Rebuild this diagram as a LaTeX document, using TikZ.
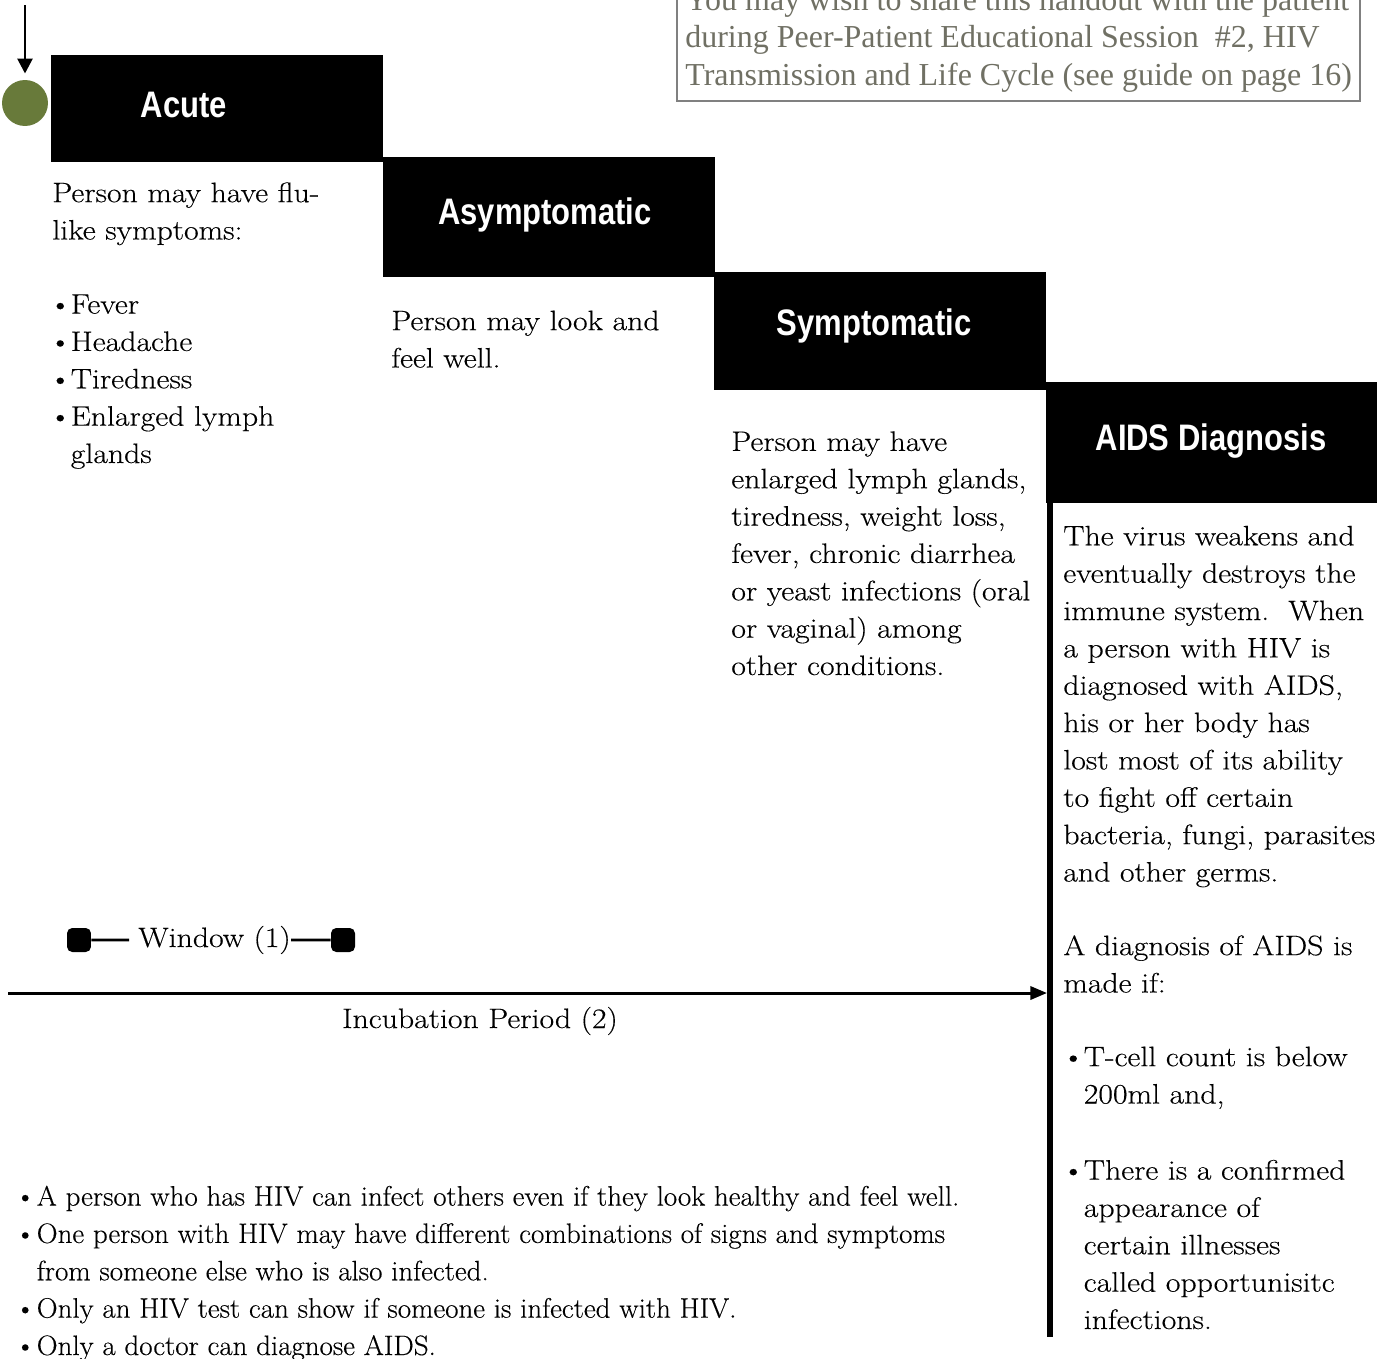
\documentclass[tikz,border=0pt]{standalone}
\usepackage{fontspec}
\usetikzlibrary{arrows.meta,positioning}

\newfontfamily\headfont[FakeStretch=0.84]{Liberation Sans}
\newfontfamily\notefont{Liberation Serif}
\newfontfamily\bodyfont[FakeStretch=1.13,FakeBold=0.3]{Latin Modern Roman}
\newfontfamily\factfont[FakeStretch=1.03,FakeBold=0.3]{Latin Modern Roman}

\definecolor{onsetgreen}{RGB}{104,122,58}
\definecolor{notegray}{RGB}{112,112,100}

% bullet and hanging indent for the lists
\newcommand\itm{\makebox[10.5pt][l]{\hspace*{-2pt}\textbullet}}
\newcommand\ind{\hspace*{10.5pt}}

\begin{document}
\begin{tikzpicture}[x=0.02cm,y=-0.02cm,
    stagebox/.style={fill=black,inner sep=0pt,anchor=north west},
    heading/.style={text=white,font=\headfont\bfseries\fontsize{21}{21}\selectfont,inner sep=0pt,anchor=base},
    % multi-line nodes sit on the baseline of their last line
    body/.style={align=left,anchor=base west,inner sep=0pt,font=\bodyfont\fontsize{16}{21.26}\selectfont},
    marker/.style={fill=black,rounded corners=3pt,minimum size=0.48cm,inner sep=0pt}]
    \useasboundingbox (0,0) rectangle (1377,1359);
    \clip (0,0) rectangle (1377,1359);

    % note in the top right corner
    \draw[gray,line width=1pt] (677,-20) rectangle (1360,101);
    \node[align=left,anchor=base west,inner sep=0pt,text=notegray,font=\notefont\fontsize{18.2}{21.3}\selectfont] (note) at (685,85)
        {You may wish to share this handout with the patient\\during Peer-Patient Educational Session\ \ \#2, HIV\\Transmission and Life Cycle (see guide on page 16)};

    % stages
    \node[stagebox,minimum width=6.64cm,minimum height=2.14cm] (acutebox) at (51,55) {};
    \node[stagebox,minimum width=6.64cm,minimum height=2.40cm] (asymbox) at (383,157) {};
    \node[stagebox,minimum width=6.64cm,minimum height=2.36cm] (symbox) at (714,272) {};
    \node[stagebox,minimum width=6.64cm,minimum height=2.42cm] (aidsbox) at (1046,382) {};

    \node[heading] (acute) at (184,117) {Acute};
    \node[heading] (asym) at (545,224) {Asymptomatic};
    \node[heading] (sym) at (874,335) {Symptomatic};
    \node[heading] (aids) at (1211,450) {AIDS Diagnosis};

    % infection starts here
    \node[circle,fill=onsetgreen,minimum size=0.92cm,inner sep=0pt] (onset) at (25,103) {};
    \coordinate (start) at (25,5);
    \draw[-{Triangle[length=8.5pt,width=8.5pt]},line width=1.6pt,shorten >=3.5pt] (start) -- (onset);

    % what each stage looks like
    \node[body] (acutetext) at (52,239.5) {Person may have flu-\\like symptoms:};
    \node[body] (acutelist) at (52,463) {\itm Fever\\\itm Headache\\\itm Tiredness\\\itm Enlarged lymph\\\ind glands};
    \node[body] (asymtext) at (391,367.5) {Person may look and\\feel well.};
    \node[body] (symtext) at (731,675) {Person may have\\enlarged lymph glands,\\tiredness, weight loss,\\fever, chronic diarrhea\\or yeast infections (oral\\or vaginal) among\\other conditions.};
    \node[body] (aidstext) at (1063,881.5) {The virus weakens and\\eventually destroys the\\immune system.\ \ When\\a person with HIV is\\diagnosed with AIDS,\\his or her body has\\lost most of its ability\\to fight off certain\\bacteria, fungi, parasites\\and other germs.};
    \node[body] (diagtext) at (1063,992.5) {A diagnosis of AIDS is\\made if:};
    \node[body] (tcell) at (1065,1103.5) {\itm T-cell count is below\\\ind 200ml and,};
    \node[body] (illness) at (1065,1329) {\itm There is a confirmed\\\ind appearance of\\\ind certain illnesses\\\ind called opportunisitc\\\ind infections.};

    % window period
    \node[marker] (winL) at (79,940) {};
    \node[marker] (winR) at (343,940) {};
    \node[body] (window) at (138,947) {Window (1)};
    \draw[line width=1.6pt,shorten >=5pt] (winL) -- (window);
    \draw[line width=1.6pt] (window) -- (winR);

    % incubation period up to the AIDS diagnosis
    \coordinate (bartop) at (1050,503);
    \coordinate (barbottom) at (1050,1337);
    \coordinate (incstart) at (8,993);
    \draw[line width=3.4pt] (bartop) -- (barbottom);
    \draw[-{Triangle[length=9.5pt,width=7.5pt]},line width=1.7pt,shorten >=1.7pt] (incstart) -- (incstart -| bartop);
    \node[body,anchor=base] (incubation) at (480,1028) {Incubation Period (2)};

    \node[body,font=\factfont\fontsize{16}{21.26}\selectfont] (facts) at (18,1355) {\itm A person who has HIV can infect others even if they look healthy and feel well.\\\itm One person with HIV may have different combinations of signs and symptoms\\\ind from someone else who is also infected.\\\itm Only an HIV test can show if someone is infected with HIV.\\\itm Only a doctor can diagnose AIDS.};
\end{tikzpicture}
\end{document}
